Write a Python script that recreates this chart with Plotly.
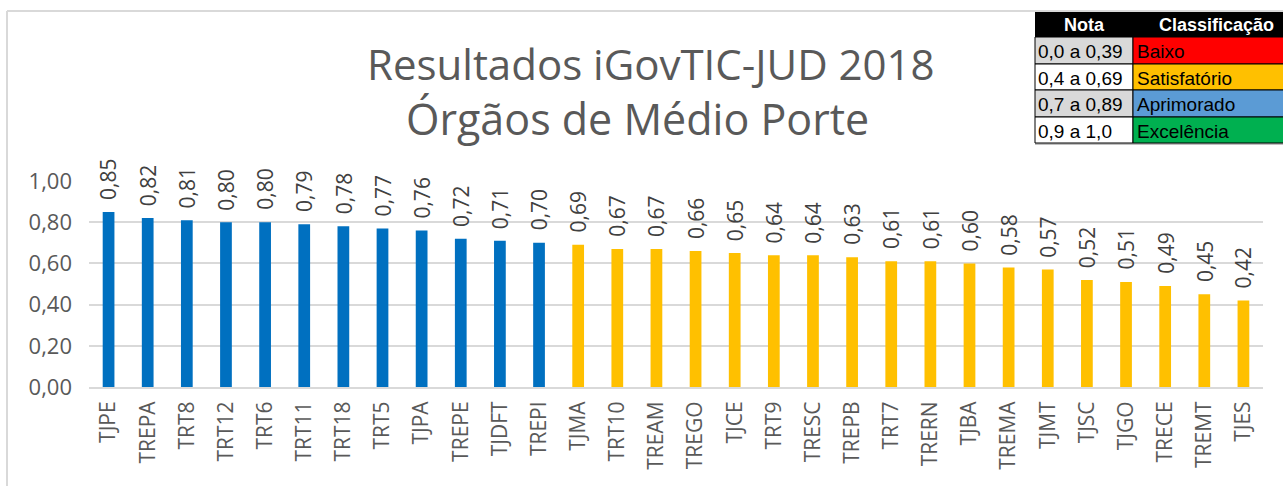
import plotly.graph_objects as go

categories = ["TJPE", "TREPA", "TRT8", "TRT12", "TRT6", "TRT11", "TRT18", "TRT5", "TJPA", "TREPE",
              "TJDFT", "TREPI", "TJMA", "TRT10", "TREAM", "TREGO", "TJCE", "TRT9", "TRESC", "TREPB",
              "TRT7", "TRERN", "TJBA", "TREMA", "TJMT", "TJSC", "TJGO", "TRECE", "TREMT", "TJES"]
values = [0.85, 0.82, 0.81, 0.80, 0.80, 0.79, 0.78, 0.77, 0.76, 0.72,
          0.71, 0.70, 0.69, 0.67, 0.67, 0.66, 0.65, 0.64, 0.64, 0.63,
          0.61, 0.61, 0.60, 0.58, 0.57, 0.52, 0.51, 0.49, 0.45, 0.42]

y_ticks = [0.0, 0.2, 0.4, 0.6, 0.8, 1.0]
y_tick_labels = ["0,00", "0,20", "0,40", "0,60", "0,80", "1,00"]

title_lines = ["Resultados iGovTIC-JUD 2018", "Órgãos de Médio Porte"]

legend_header = ["Nota", "Classificação"]
legend_ranges = ["0,0 a 0,39", "0,4 a 0,69", "0,7 a 0,89", "0,9 a 1,0"]
legend_classes = ["Baixo", "Satisfatório", "Aprimorado", "Excelência"]
legend_colors = ["#FF0000", "#FFC000", "#5B9BD5", "#00B050"]
legend_range_bg = ["#D9D9D9", "#FFFFFF", "#D9D9D9", "#FFFFFF"]

BLUE = "#0070C0"
YELLOW = "#FFC000"
bar_colors = [BLUE if v >= 0.7 else YELLOW for v in values]

W, H = 1283, 486
L, R, T, B = 89, 1263, 181, 387


def px(x):
    return (x - L) / (R - L)


def py(y):
    return (B - y) / (B - T)


fig = go.Figure()
fig.add_trace(go.Bar(
    x=categories, y=values, marker=dict(color=bar_colors, line=dict(width=0)),
    width=0.3, hoverinfo="x+y",
))

annotations = []
for c, v in zip(categories, values):
    annotations.append(dict(
        x=c, y=v, xref="x", yref="y", text=f"{v:.2f}".replace(".", ","),
        textangle=-90, showarrow=False, xanchor="center", yanchor="bottom",
        yshift=10, font=dict(family="Open Sans", size=21, color="#404040"),
    ))

# title
annotations.append(dict(x=px(651), y=py(63), xref="paper", yref="paper", text=title_lines[0],
                        showarrow=False, xanchor="center", yanchor="middle",
                        font=dict(family="Open Sans", size=42, color="#595959")))
annotations.append(dict(x=px(637), y=py(119), xref="paper", yref="paper", text=title_lines[1],
                        showarrow=False, xanchor="center", yanchor="middle",
                        font=dict(family="Open Sans", size=43, color="#595959")))

shapes = []
# chart frame (left and top border)
shapes.append(dict(type="line", xref="paper", yref="paper", x0=px(7), x1=px(7), y0=py(11), y1=py(490),
                   line=dict(color="#D9D9D9", width=2)))
shapes.append(dict(type="line", xref="paper", yref="paper", x0=px(7), x1=px(1290), y0=py(11), y1=py(11),
                   line=dict(color="#D9D9D9", width=2)))

# legend table
c0, c1, c2 = 1035, 1133, 1290
rows = [12, 37, 64, 90, 117, 143]
shapes.append(dict(type="rect", xref="paper", yref="paper", x0=px(c0), x1=px(c2), y0=py(rows[0]), y1=py(rows[1]),
                   fillcolor="#000000", line=dict(width=0)))
shapes.append(dict(type="line", xref="paper", yref="paper", x0=px(c0), x1=px(c2), y0=py(144), y1=py(144),
                   line=dict(color="#BFBFBF", width=2)))
for i in range(4):
    ya, yb = rows[i + 1], rows[i + 2]
    shapes.append(dict(type="rect", xref="paper", yref="paper", x0=px(c0), x1=px(c1), y0=py(ya), y1=py(yb),
                       fillcolor=legend_range_bg[i], line=dict(color="#000000", width=1)))
    shapes.append(dict(type="rect", xref="paper", yref="paper", x0=px(c1), x1=px(c2), y0=py(ya), y1=py(yb),
                       fillcolor=legend_colors[i], line=dict(color="#000000", width=1)))
    ym = (ya + yb) / 2 + 1
    annotations.append(dict(x=px(c0 + 1), y=py(ym), xref="paper", yref="paper", text=legend_ranges[i],
                            showarrow=False, xanchor="left", yanchor="middle",
                            font=dict(family="Liberation Sans", size=19, color="#000000")))
    annotations.append(dict(x=px(c1 + 2), y=py(ym), xref="paper", yref="paper", text=legend_classes[i],
                            showarrow=False, xanchor="left", yanchor="middle",
                            font=dict(family="Liberation Sans", size=19, color="#000000")))
annotations.append(dict(x=px(1084), y=py(25), xref="paper", yref="paper", text="<b>" + legend_header[0] + "</b>",
                        showarrow=False, xanchor="center", yanchor="middle",
                        font=dict(family="Liberation Sans", size=18, color="#FFFFFF")))
annotations.append(dict(x=px(1216), y=py(25), xref="paper", yref="paper", text="<b>" + legend_header[1] + "</b>",
                        showarrow=False, xanchor="center", yanchor="middle",
                        font=dict(family="Liberation Sans", size=18, color="#FFFFFF")))

fig.update_layout(
    width=W, height=H,
    margin=dict(l=L, r=W - R, t=T, b=H - B, pad=0),
    paper_bgcolor="#FFFFFF", plot_bgcolor="#FFFFFF",
    showlegend=False,
    annotations=annotations, shapes=shapes,
    bargap=0.7,
)
fig.update_xaxes(
    type="category", range=[-0.5, len(categories) - 0.5],
    tickangle=-90, tickfont=dict(family="Open Sans", size=21, color="#595959"),
    showgrid=False, showline=True, linecolor="#D9D9D9", linewidth=2,
    ticks="", ticklabelstandoff=4,
)
fig.update_yaxes(
    range=[0, 1.0], tickvals=y_ticks, ticktext=y_tick_labels,
    tickfont=dict(family="Open Sans", size=22, color="#595959"),
    showgrid=True, gridcolor="#D9D9D9", gridwidth=2, zeroline=False,
    showline=False, ticks="", ticklabelstandoff=16,
)

fig.write_html("out.html", config={"displayModeBar": False},
               post_script="document.body.style.margin='0';document.body.style.overflow='hidden';")
